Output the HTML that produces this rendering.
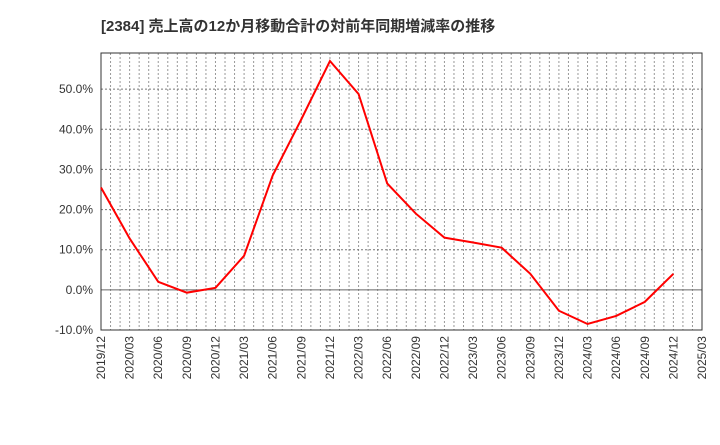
<!DOCTYPE html>
<html><head><meta charset="utf-8"><style>
body{margin:0;background:#fff;width:720px;height:440px;overflow:hidden}
svg text{font-family:"Liberation Sans","Noto Sans CJK JP",sans-serif}
</style></head><body>
<svg id="c" width="720" height="440">
<text x="101" y="31" font-size="15" font-weight="bold" fill="#333">[2384]  売上高の12か月移動合計の対前年同期増減率の推移</text>
<g id="grid"></g><g id="axes"></g><g id="series"></g>
</svg>
<script>
const categories=["2019/12","2020/03","2020/06","2020/09","2020/12","2021/03","2021/06","2021/09","2021/12","2022/03","2022/06","2022/09","2022/12","2023/03","2023/06","2023/09","2023/12","2024/03","2024/06","2024/09","2024/12"];
const values=[25.5,12.8,2.0,-0.7,0.5,8.5,28.5,42.5,57.0,48.8,26.5,19.0,13.0,11.8,10.5,4.0,-5.2,-8.5,-6.5,-3.0,4.0];
const xTickLabels=["2019/12","2020/03","2020/06","2020/09","2020/12","2021/03","2021/06","2021/09","2021/12","2022/03","2022/06","2022/09","2022/12","2023/03","2023/06","2023/09","2023/12","2024/03","2024/06","2024/09","2024/12","2025/03"];
const yTicks=[-10,0,10,20,30,40,50];
const L=101,R=702,T=53,B=330,yMin=-10,yMax=59;
const NS="http://www.w3.org/2000/svg";
const x=i=>L+(R-L)*i/21;
const y=v=>B-(v-yMin)/(yMax-yMin)*(B-T);
function mk(t,a,p){const e=document.createElementNS(NS,t);for(const k in a)e.setAttribute(k,a[k]);p.appendChild(e);return e;}
const g=document.getElementById('grid'),ax=document.getElementById('axes'),s=document.getElementById('series');
for(let m=1;m<63;m++){const l=mk('line',{x1:L+(R-L)*m/63,x2:L+(R-L)*m/63,y1:T,y2:B,stroke:'#999','stroke-dasharray':'2,2','stroke-width':1},g);

}
yTicks.forEach(v=>{const l=mk('line',{x1:L,x2:R,y1:y(v),y2:y(v),stroke:v===0?'#666':'#777','stroke-dasharray':v===0?'':'2,2','stroke-width':1},g);


const t=mk('text',{x:L-8,y:y(v)+4,'text-anchor':'end','font-size':12,fill:'#333'},ax);t.textContent=v.toFixed(1)+'%';

});
xTickLabels.forEach((c,i)=>{const t=mk('text',{transform:`translate(${x(i)+4},${B+6}) rotate(-90)`,'text-anchor':'end','font-size':12,fill:'#333'},ax);t.textContent=c;

});
const fr=mk('rect',{x:L,y:T,width:R-L,height:B-T,fill:'none',stroke:'#333','stroke-width':1},ax);


const p=mk('polyline',{points:values.map((v,i)=>x(i)+','+y(v)).join(' '),fill:'none',stroke:'#f00','stroke-width':2},s);


</script>
</body></html>
